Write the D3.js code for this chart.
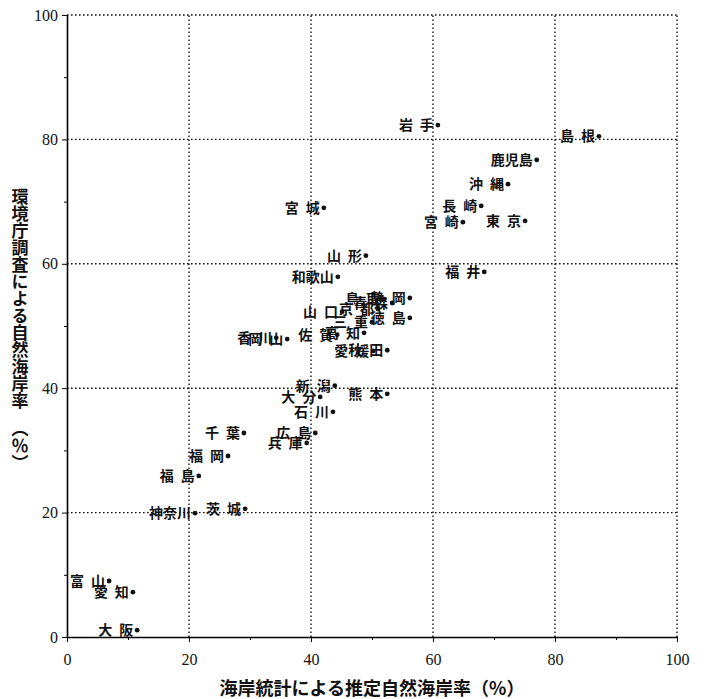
<!DOCTYPE html>
<html>
<head>
<meta charset="utf-8">
<script src="https://cdn.jsdelivr.net/npm/d3@7"></script>
<style>
  body { margin: 0; background: #fff; }
  .lbl { font-family: "Noto Sans CJK JP", sans-serif; font-size: 14px; font-weight: 700; fill: #111; }
  .tick text { font-family: "Liberation Serif", serif; font-size: 16px; fill: #111; }
</style>
</head>
<body>
<div id="chart"></div>
<script>
// prefecture names, x = 海岸統計による推定自然海岸率, y = 環境庁調査による自然海岸率
const names = [
  '岩手', '島根', '鹿児島', '沖縄', '長崎', '東京', '宮崎', '宮城', '山形', '福井',
  '和歌山', '鳥取', '静岡', '青森', '山口', '京都', '徳島', '三重', '香川', '岡山',
  '佐賀', '高知', '愛媛', '秋田', '新潟', '大分', '熊本', '石川', '千葉', '広島',
  '兵庫', '福岡', '福島', '茨城', '神奈川', '富山', '愛知', '大阪'
];
const xValues = [
  60.8, 87.2, 77.0, 72.3, 67.9, 75.1, 64.9, 42.1, 49.0, 68.4,
  44.4, 52.0, 56.2, 53.3, 45.1, 51.0, 56.2, 50.0, 34.3, 36.1,
  44.3, 48.7, 50.2, 52.5, 43.9, 41.5, 52.5, 43.6, 29.0, 40.7,
  39.3, 26.4, 21.6, 29.2, 21.0, 6.9, 10.8, 11.5
];
const yValues = [
  82.3, 80.5, 76.7, 72.8, 69.3, 66.9, 66.7, 69.0, 61.3, 58.7,
  57.9, 54.3, 54.5, 53.7, 52.3, 52.7, 51.3, 50.6, 48.1, 47.9,
  48.6, 48.9, 46.0, 46.1, 40.4, 38.6, 39.1, 36.2, 32.8, 32.8,
  31.2, 29.1, 25.9, 20.6, 19.9, 9.0, 7.2, 1.1
];
const majorTicks = [0, 20, 40, 60, 80, 100];
const minorTicks = [10, 30, 50, 70, 90];

const points = names.map((n, i) => ({ name: n, x: xValues[i], y: yValues[i] }));

const width = 704, height = 699;
const svg = d3.select('#chart').append('svg')
  .attr('width', width)
  .attr('height', height);

const x = d3.scaleLinear().domain([0, 100]).range([67, 677]);
const y = d3.scaleLinear().domain([0, 100]).range([637, 15]);

// dotted grid
const grid = svg.append('g').attr('stroke', '#111').attr('stroke-width', 1.4)
  .attr('stroke-dasharray', '1.6,2.4');
grid.selectAll('.gx').data(majorTicks.filter(d => d > 0)).join('line')
  .attr('x1', d => x(d)).attr('x2', d => x(d))
  .attr('y1', y(0)).attr('y2', y(100));
grid.selectAll('.gy').data(majorTicks.filter(d => d > 0)).join('line')
  .attr('y1', d => y(d)).attr('y2', d => y(d))
  .attr('x1', x(0)).attr('x2', x(100));

// axes
svg.append('g')
  .attr('transform', `translate(0,${y(0)})`)
  .call(d3.axisBottom(x).tickValues(majorTicks).tickSize(5).tickSizeOuter(0).tickPadding(12))
  .call(g => g.select('.domain').attr('stroke-width', 1.6));
svg.append('g')
  .attr('transform', `translate(0,${y(0)})`)
  .call(d3.axisBottom(x).tickValues(minorTicks).tickSize(3).tickSizeOuter(0).tickFormat(''));

svg.append('g')
  .attr('transform', `translate(${x(0)},0)`)
  .call(d3.axisLeft(y).tickValues(majorTicks).tickSize(5).tickSizeOuter(0).tickPadding(4))
  .call(g => g.select('.domain').attr('stroke-width', 1.6));
svg.append('g')
  .attr('transform', `translate(${x(0)},0)`)
  .call(d3.axisLeft(y).tickValues(minorTicks).tickSize(3).tickSizeOuter(0).tickFormat(''));

// points
svg.append('g').selectAll('circle').data(points).join('circle')
  .attr('cx', d => x(d.x))
  .attr('cy', d => y(d.y))
  .attr('r', 2.4)
  .attr('fill', '#111');

// labels, right aligned to the dot; two-char names spread with a gap
svg.append('g').selectAll('text').data(points).join('text')
  .attr('class', 'lbl')
  .attr('x', d => x(d.x) - 4)
  .attr('y', d => y(d.y) + 5)
  .attr('text-anchor', 'end')
  .text(d => d.name.length === 2 ? d.name[0] + '\u2002' + d.name[1] : d.name);

// axis titles
svg.append('text')
  .attr('x', 372).attr('y', 695)
  .attr('text-anchor', 'middle')
  .style('font-family', '"Noto Sans CJK JP", sans-serif')
  .style('font-size', '18px')
  .style('font-weight', 700)
  .attr('fill', '#111')
  .text('海岸統計による推定自然海岸率（%）');

svg.append('text')
  .attr('x', 20).attr('y', 188)
  .style('writing-mode', 'vertical-rl')
  .style('font-family', '"Noto Sans CJK JP", sans-serif')
  .style('font-size', '17px')
  .style('font-weight', 700)
  .attr('fill', '#111')
  .text('環境庁調査による自然海岸率');

svg.append('text')
  .attr('x', 20).attr('y', 420)
  .style('writing-mode', 'vertical-rl')
  .style('font-family', '"Noto Sans CJK JP", sans-serif')
  .style('font-size', '17px')
  .style('font-weight', 700)
  .attr('fill', '#111')
  .text('（％）');
</script>
</body>
</html>
